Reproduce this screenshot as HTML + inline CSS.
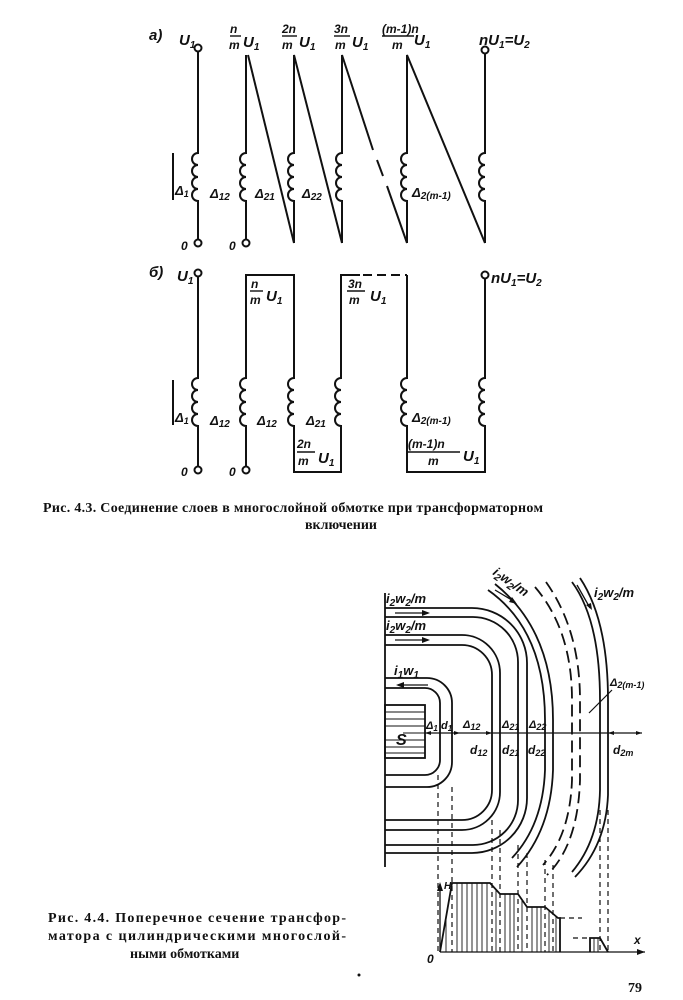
<!DOCTYPE html>
<html><head><meta charset="utf-8"><style>
html,body{margin:0;padding:0;background:#fff}
svg{display:block}
text{font-family:"Liberation Sans",sans-serif;font-style:italic;font-weight:bold;fill:#111}
.cap{font-family:"Liberation Serif",serif;font-style:normal;font-weight:bold;font-size:14px}
</style></head><body>
<svg width="683" height="1000" viewBox="0 0 683 1000" xmlns="http://www.w3.org/2000/svg">
<g stroke="#111" stroke-width="2" fill="none">
<!-- Part a -->
<path d="M198,52 V153 a6,6 0 0 0 0,12 a6,6 0 0 0 0,12 a6,6 0 0 0 0,12 a6,6 0 0 0 0,12 V240"/>
<circle cx="198" cy="48" r="3.5" fill="#fff"/><circle cx="198" cy="243" r="3.5" fill="#fff"/>
<line x1="173" y1="153" x2="173" y2="200"/>
<path d="M246,55 V153 a6,6 0 0 0 0,12 a6,6 0 0 0 0,12 a6,6 0 0 0 0,12 a6,6 0 0 0 0,12 V240"/>
<circle cx="246" cy="243" r="3.5" fill="#fff"/>
<path d="M248,55 L294,243"/>
<path d="M294,243 V201 a6,6 0 0 1 0,-12 a6,6 0 0 1 0,-12 a6,6 0 0 1 0,-12 a6,6 0 0 1 0,-12 V55 L342,243"/>
<path d="M342,243 V201 a6,6 0 0 1 0,-12 a6,6 0 0 1 0,-12 a6,6 0 0 1 0,-12 a6,6 0 0 1 0,-12 V55 L373,150"/>
<path d="M377,160 L383,176" /><path d="M387,186 L407,243"/>
<path d="M407,243 V201 a6,6 0 0 1 0,-12 a6,6 0 0 1 0,-12 a6,6 0 0 1 0,-12 a6,6 0 0 1 0,-12 V55 L485,243"/>
<path d="M485,54 V153 a6,6 0 0 0 0,12 a6,6 0 0 0 0,12 a6,6 0 0 0 0,12 a6,6 0 0 0 0,12 V243"/>
<circle cx="485" cy="50" r="3.5" fill="#fff"/>
<!-- Part b -->
<path d="M198,277 V378 a6,6 0 0 0 0,12 a6,6 0 0 0 0,12 a6,6 0 0 0 0,12 a6,6 0 0 0 0,12 V467"/>
<circle cx="198" cy="273" r="3.5" fill="#fff"/><circle cx="198" cy="470" r="3.5" fill="#fff"/>
<line x1="173" y1="380" x2="173" y2="425"/>
<path d="M246,467 V426 a6,6 0 0 1 0,-12 a6,6 0 0 1 0,-12 a6,6 0 0 1 0,-12 a6,6 0 0 1 0,-12 V275 H294 V378 a6,6 0 0 0 0,12 a6,6 0 0 0 0,12 a6,6 0 0 0 0,12 a6,6 0 0 0 0,12 V472 H341 V426 a6,6 0 0 1 0,-12 a6,6 0 0 1 0,-12 a6,6 0 0 1 0,-12 a6,6 0 0 1 0,-12 V275 H360"/>
<circle cx="246" cy="470" r="3.5" fill="#fff"/>
<path d="M363,275 H407" stroke-dasharray="9,5"/>
<path d="M407,275 V378 a6,6 0 0 0 0,12 a6,6 0 0 0 0,12 a6,6 0 0 0 0,12 a6,6 0 0 0 0,12 V472 H485 V426 a6,6 0 0 1 0,-12 a6,6 0 0 1 0,-12 a6,6 0 0 1 0,-12 a6,6 0 0 1 0,-12 V279"/>
<circle cx="485" cy="275" r="3.5" fill="#fff"/>
<g stroke-width="1.4">
<line x1="230" y1="36" x2="241" y2="36"/><line x1="282" y1="36" x2="297" y2="36"/><line x1="334" y1="36" x2="350" y2="36"/><line x1="382" y1="36" x2="414" y2="36"/>
<line x1="250" y1="291" x2="263" y2="291"/><line x1="347" y1="291" x2="365" y2="291"/><line x1="297" y1="452" x2="315" y2="452"/><line x1="408" y1="452" x2="460" y2="452"/>
</g>
</g>
<g font-size="15">
<text x="149" y="40">a)</text><text x="179" y="45">U<tspan font-size="10" dy="3">1</tspan></text>
<text x="230" y="33" font-size="12">n</text><text x="229" y="49" font-size="12">m</text><text x="243" y="47">U<tspan font-size="10" dy="3">1</tspan></text>
<text x="282" y="33" font-size="12">2n</text><text x="282" y="49" font-size="12">m</text><text x="299" y="47">U<tspan font-size="10" dy="3">1</tspan></text>
<text x="334" y="33" font-size="12">3n</text><text x="335" y="49" font-size="12">m</text><text x="352" y="47">U<tspan font-size="10" dy="3">1</tspan></text>
<text x="382" y="33" font-size="12">(m-1)n</text><text x="392" y="49" font-size="12">m</text><text x="414" y="45">U<tspan font-size="10" dy="3">1</tspan></text>
<text x="479" y="45">nU<tspan font-size="10" dy="3">1</tspan><tspan dy="-3">=U</tspan><tspan font-size="10" dy="3">2</tspan></text>
<text x="175" y="195" font-size="13">Δ<tspan font-size="9" dy="2">1</tspan></text>
<text x="210" y="198" font-size="13">Δ<tspan font-size="10" dy="2">12</tspan></text>
<text x="255" y="198" font-size="13">Δ<tspan font-size="10" dy="2">21</tspan></text>
<text x="302" y="198" font-size="13">Δ<tspan font-size="10" dy="2">22</tspan></text>
<text x="412" y="197" font-size="13">Δ<tspan font-size="10" dy="2">2(m-1)</tspan></text>
<text x="181" y="250" font-size="12">0</text><text x="229" y="250" font-size="12">0</text>
<text x="149" y="277">б)</text><text x="177" y="281">U<tspan font-size="10" dy="3">1</tspan></text>
<text x="251" y="288" font-size="12">n</text><text x="250" y="304" font-size="12">m</text><text x="266" y="301">U<tspan font-size="10" dy="3">1</tspan></text>
<text x="348" y="288" font-size="12">3n</text><text x="349" y="304" font-size="12">m</text><text x="370" y="301">U<tspan font-size="10" dy="3">1</tspan></text>
<text x="491" y="283">nU<tspan font-size="10" dy="3">1</tspan><tspan dy="-3">=U</tspan><tspan font-size="10" dy="3">2</tspan></text>
<text x="175" y="422" font-size="13">Δ<tspan font-size="9" dy="2">1</tspan></text>
<text x="210" y="425" font-size="13">Δ<tspan font-size="10" dy="2">12</tspan></text>
<text x="257" y="425" font-size="13">Δ<tspan font-size="10" dy="2">12</tspan></text>
<text x="306" y="425" font-size="13">Δ<tspan font-size="10" dy="2">21</tspan></text>
<text x="412" y="422" font-size="13">Δ<tspan font-size="10" dy="2">2(m-1)</tspan></text>
<text x="297" y="448" font-size="12">2n</text><text x="298" y="465" font-size="12">m</text><text x="318" y="463">U<tspan font-size="10" dy="3">1</tspan></text>
<text x="408" y="448" font-size="12">(m-1)n</text><text x="428" y="465" font-size="12">m</text><text x="463" y="461">U<tspan font-size="10" dy="3">1</tspan></text>
<text x="181" y="476" font-size="12">0</text><text x="229" y="476" font-size="12">0</text>
</g>
<text class="cap" x="43" y="512" textLength="500" lengthAdjust="spacing">Рис. 4.3. Соединение слоев в многослойной обмотке при трансформаторном</text>
<text class="cap" x="305" y="529">включении</text>

<!-- Fig 4.4 -->
<g stroke="#111" stroke-width="1.8" fill="none">
<line x1="385" y1="593" x2="385" y2="867"/>
<rect x="385" y="705" width="40" height="53"/>
<g stroke-width="1"><line x1="385" y1="712" x2="425" y2="712"/><line x1="385" y1="719" x2="425" y2="719"/><line x1="385" y1="726" x2="425" y2="726"/><line x1="403" y1="733" x2="425" y2="733"/><line x1="385" y1="740" x2="425" y2="740"/><line x1="385" y1="747" x2="425" y2="747"/><line x1="385" y1="753" x2="425" y2="753"/></g>
<path d="M385,688 H425 A15,15 0 0 1 440,703 V760 A15,15 0 0 1 425,775 H385"/>
<path d="M385,678 H427 A25,25 0 0 1 452,703 V762 A25,25 0 0 1 427,787 H385"/>
<path d="M385,645 H462 A30,30 0 0 1 492,675 V790 A30,30 0 0 1 462,820 H385"/>
<path d="M385,635 H462 A38,38 0 0 1 500,673 V792 A38,38 0 0 1 462,830 H385"/>
<path d="M385,617 H473 A45,45 0 0 1 518,662 V800 A45,45 0 0 1 473,845 H385"/>
<path d="M385,608 H472 A55,55 0 0 1 527,663 V798 A55,55 0 0 1 472,853 H385"/>
<path d="M488,590 Q545,630 545,720 V770 Q543,825 512,858"/>
<path d="M495,584 Q553,630 553,720 V770 Q551,830 517,867"/>
<path d="M535,587 Q572,630 572,700 V780 Q570,835 543,865" stroke-dasharray="12,6"/>
<path d="M546,582 Q580,630 580,700 V780 Q578,845 547,875" stroke-dasharray="12,6"/>
<path d="M572,582 Q600,620 600,700 V790 Q599,840 572,872"/>
<path d="M580,578 Q608,620 608,700 V795 Q606,845 575,877"/>
<line x1="425" y1="733" x2="642" y2="733" stroke-width="1.3"/>
<line x1="589" y1="713" x2="612" y2="690" stroke-width="1.2"/>
<g stroke-width="1.3"><line x1="395" y1="613" x2="428" y2="613"/><line x1="395" y1="640" x2="428" y2="640"/><line x1="398" y1="685" x2="428" y2="685"/>
<line x1="495" y1="590" x2="515" y2="602"/><line x1="577" y1="585" x2="590" y2="608"/></g>
<g stroke-dasharray="5,4" stroke-width="1.2">
<line x1="438" y1="775" x2="438" y2="952"/><line x1="452" y1="787" x2="452" y2="952"/>
<line x1="492" y1="820" x2="492" y2="952"/><line x1="500" y1="830" x2="500" y2="952"/>
<line x1="518" y1="845" x2="518" y2="952"/><line x1="527" y1="853" x2="527" y2="952"/>
<line x1="545" y1="860" x2="545" y2="952"/><line x1="553" y1="865" x2="553" y2="952"/>
<line x1="600" y1="810" x2="600" y2="952"/><line x1="608" y1="810" x2="608" y2="952"/>
<line x1="560" y1="918" x2="582" y2="918"/><line x1="573" y1="938" x2="590" y2="938"/>
</g>
<line x1="440" y1="952" x2="645" y2="952" stroke-width="1.3"/>
<line x1="440" y1="952" x2="440" y2="884" stroke-width="1.3"/>
<path d="M440,952 L452,883 H490 L500,894 H518 L527,907 H545 L558,918 H560 V952"/>
<path d="M590,952 V938 H600 L608,952"/>
<g stroke-width="0.9">
<line x1="446" y1="918" x2="446" y2="952"/><line x1="457" y1="883" x2="457" y2="952"/><line x1="462" y1="883" x2="462" y2="952"/><line x1="467" y1="883" x2="467" y2="952"/><line x1="472" y1="883" x2="472" y2="952"/><line x1="477" y1="883" x2="477" y2="952"/><line x1="482" y1="883" x2="482" y2="952"/><line x1="487" y1="883" x2="487" y2="952"/>
<line x1="496" y1="889" x2="496" y2="952"/><line x1="505" y1="894" x2="505" y2="952"/><line x1="510" y1="894" x2="510" y2="952"/><line x1="514" y1="894" x2="514" y2="952"/><line x1="522" y1="900" x2="522" y2="952"/>
<line x1="532" y1="907" x2="532" y2="952"/><line x1="537" y1="907" x2="537" y2="952"/><line x1="541" y1="907" x2="541" y2="952"/><line x1="549" y1="911" x2="549" y2="952"/><line x1="556" y1="916" x2="556" y2="952"/>
<line x1="594" y1="938" x2="594" y2="952"/><line x1="598" y1="938" x2="598" y2="952"/>
</g>
</g>
<g fill="#111"><path d="M430,613 l-8,-3 v6z"/><path d="M430,640 l-8,-3 v6z"/><path d="M396,685 l8,-3 v6z"/><path d="M645,952 l-8,-3 v6z"/><path d="M440,882 l-3,9 h6z"/>
<path d="M517,604 l-8,-2 l3,-5z"/><path d="M592,610 l-6,-5 l5,-2z"/>
<path d="M425,733 l6,-2 v4z"/><path d="M460,733 l-6,-2 v4z"/><path d="M492,733 l-6,-2 v4z"/><path d="M642,733 l-6,-2 v4z"/><path d="M608,733 l6,-2 v4z"/></g>
<g font-size="13">
<text x="386" y="603">i<tspan font-size="10" dy="3">2</tspan><tspan dy="-3">w</tspan><tspan font-size="10" dy="3">2</tspan><tspan dy="-3">/m</tspan></text>
<text x="386" y="630">i<tspan font-size="10" dy="3">2</tspan><tspan dy="-3">w</tspan><tspan font-size="10" dy="3">2</tspan><tspan dy="-3">/m</tspan></text>
<text x="394" y="675">i<tspan font-size="10" dy="3">1</tspan><tspan dy="-3">w</tspan><tspan font-size="10" dy="3">1</tspan></text>
<text x="492" y="574" transform="rotate(35 492 574)">i<tspan font-size="10" dy="3">2</tspan><tspan dy="-3">w</tspan><tspan font-size="10" dy="3">2</tspan><tspan dy="-3">/m</tspan></text>
<text x="594" y="597">i<tspan font-size="10" dy="3">2</tspan><tspan dy="-3">w</tspan><tspan font-size="10" dy="3">2</tspan><tspan dy="-3">/m</tspan></text>
<text x="396" y="745" font-size="16">S</text>
<text x="426" y="729" font-size="11">Δ<tspan font-size="8" dy="2">1</tspan></text>
<text x="441" y="729" font-size="11">d<tspan font-size="8" dy="2">1</tspan></text>
<text x="463" y="728" font-size="11">Δ<tspan font-size="9" dy="2">12</tspan></text>
<text x="502" y="728" font-size="11">Δ<tspan font-size="9" dy="2">21</tspan></text>
<text x="529" y="728" font-size="11">Δ<tspan font-size="9" dy="2">22</tspan></text>
<text x="470" y="754" font-size="12">d<tspan font-size="9" dy="2">12</tspan></text>
<text x="502" y="754" font-size="12">d<tspan font-size="9" dy="2">21</tspan></text>
<text x="528" y="754" font-size="12">d<tspan font-size="9" dy="2">22</tspan></text>
<text x="613" y="754" font-size="12">d<tspan font-size="9" dy="2">2m</tspan></text>
<text x="610" y="686" font-size="11">Δ<tspan font-size="9" dy="2">2(m-1)</tspan></text>
<text x="444" y="889" font-size="10">H</text>
<text x="427" y="963" font-size="12">0</text>
<text x="634" y="944" font-size="12">x</text>
</g>
<text class="cap" x="48" y="922" font-size="13.5" textLength="298" lengthAdjust="spacing">Рис. 4.4. Поперечное сечение трансфор-</text>
<text class="cap" x="48" y="940" font-size="13.5" textLength="298" lengthAdjust="spacing">матора с цилиндрическими многослой-</text>
<text class="cap" x="130" y="958" font-size="13.5">ными обмотками</text>
<text class="cap" x="628" y="992" font-size="15">79</text>
<circle cx="359" cy="975" r="1.5" fill="#111"/>
</svg>
</body></html>
